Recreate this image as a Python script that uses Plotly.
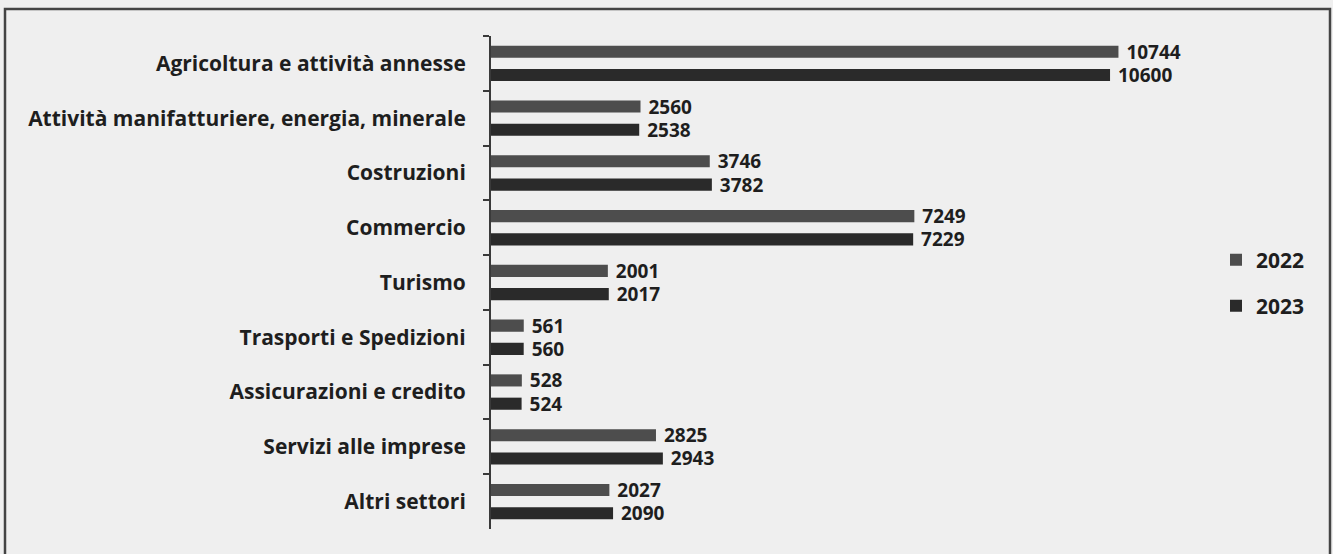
import plotly.graph_objects as go

# Imprese per settore di attività economica, 2022 vs 2023
sectors = [
    "Agricoltura e attività annesse",
    "Attività manifatturiere, energia, minerale",
    "Costruzioni",
    "Commercio",
    "Turismo",
    "Trasporti e Spedizioni",
    "Assicurazioni e credito",
    "Servizi alle imprese",
    "Altri settori",
]
values_2022 = [10744, 2560, 3746, 7249, 2001, 561, 528, 2825, 2027]
values_2023 = [10600, 2538, 3782, 7229, 2017, 560, 524, 2943, 2090]
series_names = ["2022", "2023"]

# page geometry (pixels)
W, H = 1333, 554
M_L, M_R, M_T, M_B = 491, 150, 36, 25
PX_PER_UNIT = 0.0584
plot_w = W - M_L - M_R
plot_h = H - M_T - M_B
x_max = plot_w / PX_PER_UNIT

FONT = "Open Sans"
TEXT_COLOR = "#1e1e1e"
BG = "#efefef"
COL_2022 = "#4d4d4d"
COL_2023 = "#2a2a2a"


def px_to_paper_x(px):
    return (px - M_L) / plot_w


def px_to_paper_y(py):
    return (H - M_B - py) / plot_h


fig = go.Figure()
for name, vals, col, leg in [
    (series_names[0], values_2022, COL_2022, "legend"),
    (series_names[1], values_2023, COL_2023, "legend2"),
]:
    fig.add_trace(
        go.Bar(
            name=name,
            y=sectors,
            x=vals,
            orientation="h",
            marker=dict(color=col, line=dict(width=0)),
            texttemplate=" %{x:d}",
            textposition="outside",
            constraintext="none",
            cliponaxis=False,
            textfont=dict(family=FONT, size=19, color=TEXT_COLOR, weight="bold"),
            legend=leg,
        )
    )

legend_style = dict(
    font=dict(family=FONT, size=21, color=TEXT_COLOR, weight="bold"),
    bgcolor="rgba(0,0,0,0)",
    borderwidth=0,
    xanchor="left",
    yanchor="middle",
    itemclick=False,
)

fig.update_layout(
    width=W,
    height=H,
    margin=dict(l=M_L, r=M_R, t=M_T, b=M_B, pad=0),
    paper_bgcolor=BG,
    plot_bgcolor=BG,
    barmode="group",
    bargap=0.15,
    bargroupgap=0.48,
    showlegend=True,
    legend=dict(legend_style, x=px_to_paper_x(1216), y=px_to_paper_y(260)),
    legend2=dict(legend_style, x=px_to_paper_x(1216), y=px_to_paper_y(306)),
    xaxis=dict(range=[0, x_max], visible=False, fixedrange=True),
    yaxis=dict(
        autorange="reversed",
        showline=True,
        linecolor="#3a3a3a",
        linewidth=2,
        ticks="outside",
        tickson="boundaries",
        ticklen=6,
        tickwidth=2,
        tickcolor="#3a3a3a",
        ticklabelstandoff=19,
        tickfont=dict(family=FONT, size=21, color=TEXT_COLOR, weight="bold"),
        showgrid=False,
        zeroline=False,
        fixedrange=True,
    ),
    shapes=[
        dict(
            type="rect",
            xref="paper",
            yref="paper",
            x0=px_to_paper_x(5),
            x1=px_to_paper_x(1330),
            y0=px_to_paper_y(575),
            y1=px_to_paper_y(9),
            line=dict(color="#444444", width=2.5),
            fillcolor="rgba(0,0,0,0)",
            layer="below",
        )
    ],
)

fig.write_html("out.html")
